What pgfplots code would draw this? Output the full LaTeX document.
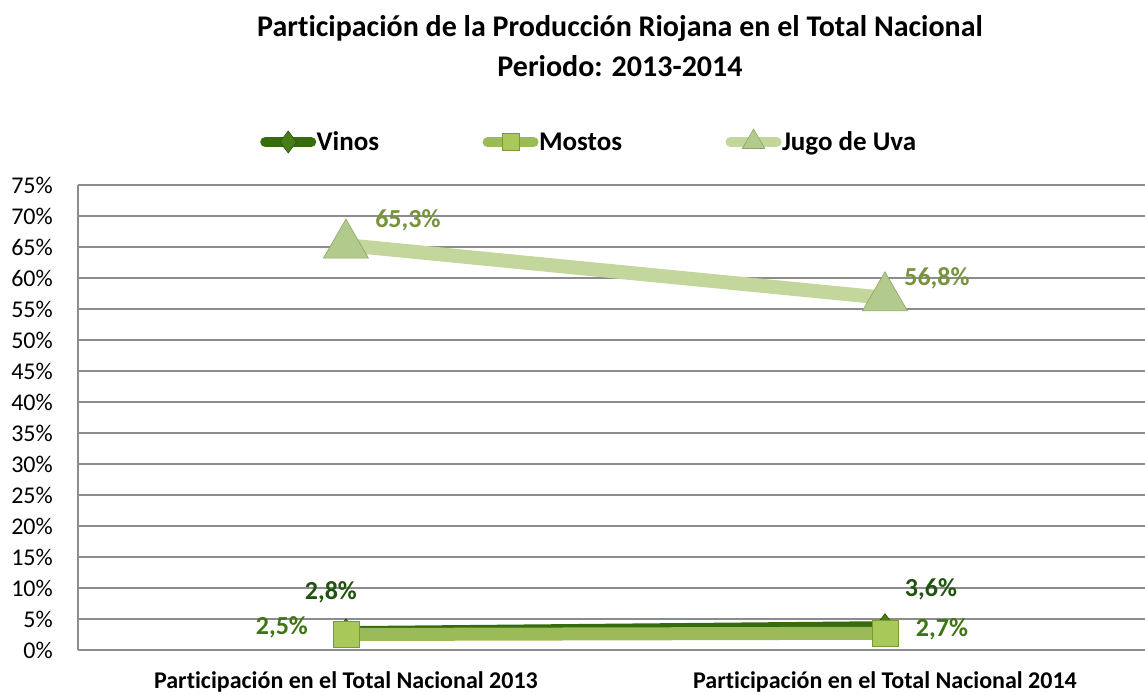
\documentclass[border=0pt]{standalone}
\usepackage{pgfplots}
\usepackage{pgfplotstable}
\pgfplotsset{compat=1.18}
\usepackage{fontspec}
\setmainfont{Carlito}[Ligatures=NoCommon]
\definecolor{gridgray}{RGB}{140,140,140}
\definecolor{vinosline}{RGB}{55,108,12}
\definecolor{vinosmark}{RGB}{70,125,25}
\definecolor{vinosedge}{RGB}{40,85,10}
\definecolor{vinoslabel}{RGB}{31,84,16}
\definecolor{mostosline}{RGB}{155,187,89}
\definecolor{mostosmark}{RGB}{168,200,90}
\definecolor{mostosedge}{RGB}{118,155,50}
\definecolor{mostoslabel}{RGB}{62,117,18}
\definecolor{jugoline}{RGB}{195,214,155}
\definecolor{jugomark}{RGB}{178,202,140}
\definecolor{jugoedge}{RGB}{140,165,100}
\definecolor{jugolabel}{RGB}{119,147,60}

\pgfplotstableread{
x y dx dy
0 2.8 -15 40
1 3.6 46 38
}\vinos
\pgfplotstableread{
x y dx dy
0 2.5 -64 7
1 2.7 57 4
}\mostos
\pgfplotstableread{
x y dx dy
0 65.3 62 25
1 56.8 52 20
}\jugo

\begin{document}
\begin{tikzpicture}[x=1pt,y=1pt]
\useasboundingbox (-78,-45) rectangle (1067,650);
\begin{axis}[
  at={(0,0)}, anchor=south west,
  scale only axis, width=1067pt, height=465pt,
  xmin=-0.497, xmax=1.4824, ymin=0, ymax=75,
  clip=false,
  /pgf/number format/assume math mode=true,
  axis lines=left,
  axis line style={-, draw=gridgray, line width=1.5pt},
  major tick length=0pt,
  ytick={0,5,...,75},
  yticklabel={\pgfmathprintnumber{\tick}\%},
  yticklabel style={font=\fontsize{24}{28}\selectfont, inner sep=0pt, anchor=east, xshift=-25pt},
  xtick={0,1},
  xticklabels={Participación en el Total Nacional 2013, Participación en el Total Nacional 2014},
  xticklabel style={font=\fontsize{24}{28}\selectfont\bfseries, inner sep=0pt, anchor=base, yshift=-39pt},
  ymajorgrids,
  grid style={draw=gridgray, line width=1.5pt},
  legend style={draw=none, fill=none, at={(0.1706,1.0946)}, anchor=west,
    legend columns=-1, inner sep=0pt,
    nodes={inner sep=0.5pt, font=\fontsize{27}{32}\selectfont\bfseries},
    /tikz/every even column/.append style={column sep=103pt}},
  legend image code/.code={\draw[#1, mark repeat=2, mark phase=2] plot coordinates {(5pt,0pt) (28pt,0pt) (51pt,0pt)};},
  visualization depends on={\thisrow{dx}\as\dx},
  visualization depends on={\thisrow{dy}\as\dy},
  nodes near coords={\pgfmathprintnumber[fixed, fixed zerofill, precision=1, use comma, assume math mode=true]{\pgfplotspointmeta}\%},
  every node near coord/.append style={anchor=center, xshift=\dx pt, yshift=\dy pt,
     font=\fontsize{26}{30}\selectfont\bfseries},
]
\addlegendimage{line width=10pt, line cap=round, color=vinosline, mark=diamond*, mark size=11pt,
   mark options={fill=vinosmark, draw=vinosedge, line width=0.6pt}}
\addlegendentry{Vinos}
\addlegendimage{line width=10pt, line cap=round, color=mostosline, mark=square*, mark size=8.5pt,
   mark options={fill=mostosmark, draw=mostosedge, line width=0.6pt}}
\addlegendentry{Mostos}
\addlegendimage{line width=10pt, line cap=round, color=jugoline, mark=triangle*, mark size=13pt,
   mark options={fill=jugomark, draw=jugoedge, line width=0.6pt}}
\addlegendentry{Jugo de Uva}

\addplot[forget plot, color=vinosline, line width=13pt, mark=diamond*, mark size=14pt,
   mark options={fill=vinosmark, draw=vinosedge, line width=0.6pt},
   nodes near coords style={text=vinoslabel}] table[x=x, y=y] {\vinos};
\addplot[forget plot, color=mostosline, line width=13pt, mark=square*, mark size=13pt,
   mark options={fill=mostosmark, draw=mostosedge, line width=0.6pt},
   nodes near coords style={text=mostoslabel}] table[x=x, y=y] {\mostos};
\addplot[forget plot, color=jugoline, line width=14pt, mark=triangle*, mark size=26pt,
   mark options={fill=jugomark, draw=jugoedge, line width=0.6pt},
   nodes near coords style={text=jugolabel}] table[x=x, y=y] {\jugo};
\end{axis}
\node[anchor=base, font=\fontsize{30}{34}\selectfont\bfseries] at (542,613) {Participación de la Producción Riojana en el Total Nacional};
\node[anchor=base, font=\fontsize{30}{34}\selectfont\bfseries] at (542,573) {Periodo: 2013-2014};
\end{tikzpicture}
\end{document}
